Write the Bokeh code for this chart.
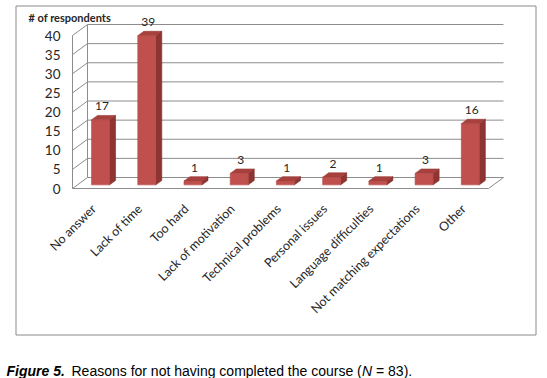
import math
from bokeh.plotting import figure
from bokeh.models import Range1d
from bokeh.core.properties import value
from bokeh.embed import file_html
from bokeh.resources import INLINE

# ---------------- data ----------------
categories = ["No answer", "Lack of time", "Too hard", "Lack of motivation",
              "Technical problems", "Personal issues", "Language difficulties",
              "Not matching expectations", "Other"]
counts = [17, 39, 1, 3, 1, 2, 1, 3, 16]
y_ticks = [0, 5, 10, 15, 20, 25, 30, 35, 40]
y_title = "# of respondents"
caption_bold = "Figure 5."
caption_text = "Reasons for not having completed the course ("
caption_n = "N"
caption_end = "= 83)."

# ---------------- geometry (reference pixels) ----------------
W, H = 547, 378
OX, OY = 0, 0                 # page offset of the figure
X0, X1 = 72.0, 488.0          # front edge of floor
Y_ZERO, Y_TOP = 188.0, 35.0   # value 0 and value 40 on the front plane
n = len(categories)
slot_px = (X1 - X0) / n
ppu = (Y_ZERO - Y_TOP) / y_ticks[-1]


def sx(X):
    return -0.5 + (X - X0) / slot_px


def sy(Y):
    return (Y_ZERO - Y) / ppu


DX = 15.0 / slot_px   # depth offset of the box
DY = 11.0 / ppu
F0, F1 = 0.33, 0.73   # bar front / back as fraction of depth
HW = 9.0 / slot_px    # bar half width

p = figure(width=W, height=H,
           x_range=Range1d(sx(OX), sx(OX + W)),
           y_range=Range1d(sy(OY + H), sy(OY)),
           output_backend="svg", toolbar_location=None,
           x_axis_location=None, y_axis_location=None,
           min_border=0)
p.grid.visible = False
p.outline_line_color = None
p.background_fill_color = "white"

grid_col = "#8c8c8c"
xl, xr = -0.5, n - 0.5

# back wall gridlines
p.segment(x0=[xl + DX] * len(y_ticks), y0=[v + DY for v in y_ticks],
          x1=[xr + DX] * len(y_ticks), y1=[v + DY for v in y_ticks],
          line_color=grid_col, line_width=1)
# left wall diagonals
p.segment(x0=[xl] * len(y_ticks), y0=y_ticks,
          x1=[xl + DX] * len(y_ticks), y1=[v + DY for v in y_ticks],
          line_color=grid_col, line_width=1)
# left wall verticals
p.segment(x0=[xl, xl + DX], y0=[0, DY], x1=[xl, xl + DX],
          y1=[y_ticks[-1], y_ticks[-1] + DY], line_color=grid_col, line_width=1)
# floor front edge and right edge
p.segment(x0=[xl, xr], y0=[0, 0], x1=[xr, xr + DX], y1=[0, DY],
          line_color=grid_col, line_width=1)

# bars
fx, fy = F0 * DX, F0 * DY
ddx, ddy = (F1 - F0) * DX, (F1 - F0) * DY
front_xs, front_ys, side_xs, side_ys, top_xs, top_ys = [], [], [], [], [], []
for i, v in enumerate(counts):
    l, r = i - HW + fx, i + HW + fx
    b, t = fy, v + fy
    front_xs.append([l, r, r, l]); front_ys.append([b, b, t, t])
    side_xs.append([r, r + ddx, r + ddx, r]); side_ys.append([b, b + ddy, t + ddy, t])
    top_xs.append([l, r, r + ddx, l + ddx]); top_ys.append([t, t, t + ddy, t + ddy])
p.patches(side_xs, side_ys, fill_color="#8e3431", line_color="#7a2b29", line_width=0.6)
p.patches(top_xs, top_ys, fill_color="#a8403d", line_color="#963a37", line_width=0.6)
p.patches(front_xs, front_ys, fill_color="#c0504d", line_color="#b04845", line_width=0.6)

# value labels
p.text(x=[i + fx + 0.03 for i in range(n)],
       y=[v + F1 * DY + 9.0 / ppu for v in counts],
       text=[str(v) for v in counts],
       text_font=value("Lato"), text_font_size="12px", text_color="#262626",
       text_align="center", text_baseline="middle")

# y tick labels
p.text(x=[sx(60)] * len(y_ticks), y=y_ticks, text=[str(v) for v in y_ticks],
       text_font=value("Lato"), text_font_size="13.5px", text_color="#262626",
       text_align="right", text_baseline="middle")

# y title
p.text(x=[sx(28)], y=[sy(17)], text=[y_title],
       text_font=value("Lato"), text_font_size="11px", text_font_style="bold",
       text_color="#262626", text_align="left", text_baseline="middle")

# category labels
p.text(x=[i - 0.04 for i in range(n)], y=[sy(206)] * n, text=categories,
       angle=math.pi / 4, text_font=value("Lato"), text_font_size="12.5px",
       text_color="#262626", text_align="right", text_baseline="middle")

# chart border
p.quad(left=[sx(15.5)], right=[sx(535.5)], top=[sy(5.5)], bottom=[sy(334.5)],
       fill_color=None, line_color="#8a8a8a", line_width=1)

# caption
cap_y = sy(370)
fs = "14px"
x_text = 71.0
x_n = x_text + 290.5
x_end = x_n + 14.0
p.text(x=[sx(6)], y=[cap_y], text=[caption_bold], text_font=value("Liberation Sans"),
       text_font_size=fs, text_font_style="bold italic", text_color="black",
       text_align="left", text_baseline="alphabetic")
p.text(x=[sx(x_text)], y=[cap_y], text=[caption_text], text_font=value("Liberation Sans"),
       text_font_size=fs, text_color="black", text_align="left", text_baseline="alphabetic")
p.text(x=[sx(x_n)], y=[cap_y], text=[caption_n], text_font=value("Liberation Sans"),
       text_font_size=fs, text_font_style="italic", text_color="black",
       text_align="left", text_baseline="alphabetic")
p.text(x=[sx(x_end)], y=[cap_y], text=[caption_end], text_font=value("Liberation Sans"),
       text_font_size=fs, text_color="black", text_align="left", text_baseline="alphabetic")

open("out.html", "w").write(file_html(p, INLINE))
